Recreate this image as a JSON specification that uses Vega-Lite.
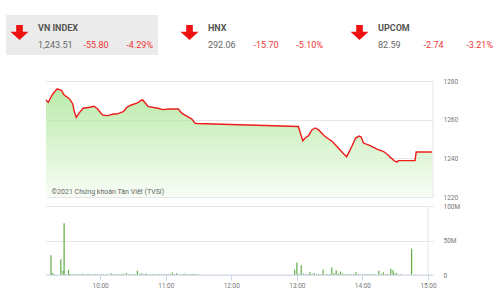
{
  "$schema": "https://vega.github.io/schema/vega-lite/v6.json",
  "padding": {"left": 5, "top": 15, "right": 4, "bottom": 0},
  "background": "white",
  "config": {"view": {"stroke": null}, "font": "Roboto"},
  "datasets": {
    "header": [
      {"name": "VN INDEX", "value": "1,243.51", "change": "-55.80", "pct": "-4.29%", "active": true},
      {"name": "HNX", "value": "292.06", "change": "-15.70", "pct": "-5.10%", "active": false},
      {"name": "UPCOM", "value": "82.59", "change": "-2.74", "pct": "-3.21%", "active": false}
    ],
    "price": [
      {"t": "2021-01-28T09:15", "price": 1270.2},
      {"t": "2021-01-28T09:17", "price": 1269.0},
      {"t": "2021-01-28T09:21", "price": 1273.3},
      {"t": "2021-01-28T09:25", "price": 1276.0},
      {"t": "2021-01-28T09:29", "price": 1275.0},
      {"t": "2021-01-28T09:31", "price": 1272.9},
      {"t": "2021-01-28T09:36", "price": 1270.7},
      {"t": "2021-01-28T09:39", "price": 1268.0},
      {"t": "2021-01-28T09:40", "price": 1264.6},
      {"t": "2021-01-28T09:42", "price": 1261.2},
      {"t": "2021-01-28T09:45", "price": 1263.8},
      {"t": "2021-01-28T09:48", "price": 1265.9},
      {"t": "2021-01-28T09:54", "price": 1266.4},
      {"t": "2021-01-28T09:58", "price": 1266.9},
      {"t": "2021-01-28T10:01", "price": 1265.5},
      {"t": "2021-01-28T10:04", "price": 1263.3},
      {"t": "2021-01-28T10:06", "price": 1262.3},
      {"t": "2021-01-28T10:10", "price": 1262.1},
      {"t": "2021-01-28T10:15", "price": 1262.9},
      {"t": "2021-01-28T10:18", "price": 1262.9},
      {"t": "2021-01-28T10:22", "price": 1263.8},
      {"t": "2021-01-28T10:24", "price": 1264.1},
      {"t": "2021-01-28T10:27", "price": 1266.4},
      {"t": "2021-01-28T10:31", "price": 1267.6},
      {"t": "2021-01-28T10:36", "price": 1268.5},
      {"t": "2021-01-28T10:38", "price": 1269.3},
      {"t": "2021-01-28T10:41", "price": 1270.3},
      {"t": "2021-01-28T10:43", "price": 1269.0},
      {"t": "2021-01-28T10:46", "price": 1266.9},
      {"t": "2021-01-28T10:50", "price": 1266.4},
      {"t": "2021-01-28T10:55", "price": 1265.9},
      {"t": "2021-01-28T10:59", "price": 1265.2},
      {"t": "2021-01-28T11:05", "price": 1265.5},
      {"t": "2021-01-28T11:13", "price": 1265.5},
      {"t": "2021-01-28T11:16", "price": 1263.4},
      {"t": "2021-01-28T11:20", "price": 1262.0},
      {"t": "2021-01-28T11:25", "price": 1260.3},
      {"t": "2021-01-28T11:28", "price": 1258.1},
      {"t": "2021-01-28T11:30", "price": 1258.0},
      {"t": "2021-01-28T13:00", "price": 1256.5},
      {"t": "2021-01-28T13:02", "price": 1252.6},
      {"t": "2021-01-28T13:04", "price": 1249.1},
      {"t": "2021-01-28T13:06", "price": 1250.5},
      {"t": "2021-01-28T13:09", "price": 1251.7},
      {"t": "2021-01-28T13:12", "price": 1254.7},
      {"t": "2021-01-28T13:15", "price": 1255.7},
      {"t": "2021-01-28T13:18", "price": 1254.7},
      {"t": "2021-01-28T13:23", "price": 1251.7},
      {"t": "2021-01-28T13:27", "price": 1250.0},
      {"t": "2021-01-28T13:30", "price": 1248.8},
      {"t": "2021-01-28T13:35", "price": 1245.7},
      {"t": "2021-01-28T13:39", "price": 1243.1},
      {"t": "2021-01-28T13:43", "price": 1240.8},
      {"t": "2021-01-28T13:45", "price": 1243.1},
      {"t": "2021-01-28T13:48", "price": 1246.6},
      {"t": "2021-01-28T13:51", "price": 1250.5},
      {"t": "2021-01-28T13:54", "price": 1251.5},
      {"t": "2021-01-28T13:56", "price": 1251.0},
      {"t": "2021-01-28T13:58", "price": 1247.9},
      {"t": "2021-01-28T14:04", "price": 1246.6},
      {"t": "2021-01-28T14:10", "price": 1244.8},
      {"t": "2021-01-28T14:16", "price": 1243.5},
      {"t": "2021-01-28T14:20", "price": 1241.7},
      {"t": "2021-01-28T14:22", "price": 1240.5},
      {"t": "2021-01-28T14:26", "price": 1238.5},
      {"t": "2021-01-28T14:28", "price": 1238.0},
      {"t": "2021-01-28T14:29", "price": 1238.8},
      {"t": "2021-01-28T14:44", "price": 1238.8},
      {"t": "2021-01-28T14:45", "price": 1243.3},
      {"t": "2021-01-28T14:59", "price": 1243.3}
    ],
    "volume": [
      {"t": "2021-01-28T09:15", "vol": 28.5},
      {"t": "2021-01-28T09:16", "vol": 3},
      {"t": "2021-01-28T09:17", "vol": 1.5},
      {"t": "2021-01-28T09:18", "vol": 0.8},
      {"t": "2021-01-28T09:24", "vol": 23},
      {"t": "2021-01-28T09:26", "vol": 6},
      {"t": "2021-01-28T09:27", "vol": 75},
      {"t": "2021-01-28T09:28", "vol": 1},
      {"t": "2021-01-28T09:31", "vol": 7.7},
      {"t": "2021-01-28T09:32", "vol": 1.5},
      {"t": "2021-01-28T09:33", "vol": 1},
      {"t": "2021-01-28T09:35", "vol": 1.2},
      {"t": "2021-01-28T09:37", "vol": 0.8},
      {"t": "2021-01-28T09:39", "vol": 1.5},
      {"t": "2021-01-28T09:41", "vol": 1},
      {"t": "2021-01-28T09:43", "vol": 2},
      {"t": "2021-01-28T09:45", "vol": 1.2},
      {"t": "2021-01-28T09:47", "vol": 1},
      {"t": "2021-01-28T09:49", "vol": 1.8},
      {"t": "2021-01-28T09:51", "vol": 1},
      {"t": "2021-01-28T09:53", "vol": 0.8},
      {"t": "2021-01-28T09:55", "vol": 1.3},
      {"t": "2021-01-28T09:57", "vol": 1},
      {"t": "2021-01-28T09:59", "vol": 0.9},
      {"t": "2021-01-28T10:01", "vol": 1.5},
      {"t": "2021-01-28T10:03", "vol": 1},
      {"t": "2021-01-28T10:05", "vol": 0.8},
      {"t": "2021-01-28T10:07", "vol": 1.2},
      {"t": "2021-01-28T10:10", "vol": 2.5},
      {"t": "2021-01-28T10:12", "vol": 1},
      {"t": "2021-01-28T10:14", "vol": 0.8},
      {"t": "2021-01-28T10:16", "vol": 1.4},
      {"t": "2021-01-28T10:18", "vol": 1},
      {"t": "2021-01-28T10:20", "vol": 1.8},
      {"t": "2021-01-28T10:22", "vol": 1},
      {"t": "2021-01-28T10:24", "vol": 3},
      {"t": "2021-01-28T10:26", "vol": 1},
      {"t": "2021-01-28T10:28", "vol": 1.2},
      {"t": "2021-01-28T10:30", "vol": 0.8},
      {"t": "2021-01-28T10:32", "vol": 1.5},
      {"t": "2021-01-28T10:34", "vol": 6},
      {"t": "2021-01-28T10:36", "vol": 1.5},
      {"t": "2021-01-28T10:38", "vol": 2.5},
      {"t": "2021-01-28T10:40", "vol": 1},
      {"t": "2021-01-28T10:42", "vol": 2},
      {"t": "2021-01-28T10:44", "vol": 1},
      {"t": "2021-01-28T10:46", "vol": 0.8},
      {"t": "2021-01-28T10:48", "vol": 1.2},
      {"t": "2021-01-28T10:50", "vol": 1},
      {"t": "2021-01-28T10:52", "vol": 0.9},
      {"t": "2021-01-28T10:54", "vol": 1.3},
      {"t": "2021-01-28T10:56", "vol": 1},
      {"t": "2021-01-28T10:58", "vol": 0.8},
      {"t": "2021-01-28T11:00", "vol": 1.2},
      {"t": "2021-01-28T11:02", "vol": 1},
      {"t": "2021-01-28T11:04", "vol": 1.5},
      {"t": "2021-01-28T11:06", "vol": 3.5},
      {"t": "2021-01-28T11:08", "vol": 1},
      {"t": "2021-01-28T11:10", "vol": 2.5},
      {"t": "2021-01-28T11:12", "vol": 1},
      {"t": "2021-01-28T11:14", "vol": 0.8},
      {"t": "2021-01-28T11:16", "vol": 1.2},
      {"t": "2021-01-28T11:18", "vol": 2.2},
      {"t": "2021-01-28T11:20", "vol": 1},
      {"t": "2021-01-28T11:22", "vol": 1.5},
      {"t": "2021-01-28T11:24", "vol": 1},
      {"t": "2021-01-28T11:26", "vol": 1.8},
      {"t": "2021-01-28T11:28", "vol": 1},
      {"t": "2021-01-28T11:30", "vol": 0.8},
      {"t": "2021-01-28T12:58", "vol": 7.7},
      {"t": "2021-01-28T13:00", "vol": 18},
      {"t": "2021-01-28T13:02", "vol": 1.5},
      {"t": "2021-01-28T13:04", "vol": 14},
      {"t": "2021-01-28T13:06", "vol": 2},
      {"t": "2021-01-28T13:08", "vol": 1},
      {"t": "2021-01-28T13:10", "vol": 1.5},
      {"t": "2021-01-28T13:12", "vol": 4},
      {"t": "2021-01-28T13:14", "vol": 1},
      {"t": "2021-01-28T13:16", "vol": 3},
      {"t": "2021-01-28T13:18", "vol": 1},
      {"t": "2021-01-28T13:20", "vol": 1.5},
      {"t": "2021-01-28T13:22", "vol": 1},
      {"t": "2021-01-28T13:24", "vol": 7.7},
      {"t": "2021-01-28T13:26", "vol": 1},
      {"t": "2021-01-28T13:28", "vol": 1.2},
      {"t": "2021-01-28T13:30", "vol": 1.5},
      {"t": "2021-01-28T13:32", "vol": 11},
      {"t": "2021-01-28T13:34", "vol": 2.5},
      {"t": "2021-01-28T13:36", "vol": 7},
      {"t": "2021-01-28T13:38", "vol": 2},
      {"t": "2021-01-28T13:40", "vol": 5},
      {"t": "2021-01-28T13:42", "vol": 2},
      {"t": "2021-01-28T13:44", "vol": 1.5},
      {"t": "2021-01-28T13:46", "vol": 1},
      {"t": "2021-01-28T13:48", "vol": 1.2},
      {"t": "2021-01-28T13:50", "vol": 1},
      {"t": "2021-01-28T13:52", "vol": 1.5},
      {"t": "2021-01-28T13:54", "vol": 4},
      {"t": "2021-01-28T13:56", "vol": 1},
      {"t": "2021-01-28T13:58", "vol": 1.2},
      {"t": "2021-01-28T14:00", "vol": 1},
      {"t": "2021-01-28T14:02", "vol": 1},
      {"t": "2021-01-28T14:04", "vol": 1.5},
      {"t": "2021-01-28T14:06", "vol": 1},
      {"t": "2021-01-28T14:08", "vol": 1},
      {"t": "2021-01-28T14:10", "vol": 1.2},
      {"t": "2021-01-28T14:12", "vol": 1},
      {"t": "2021-01-28T14:15", "vol": 6},
      {"t": "2021-01-28T14:17", "vol": 1.5},
      {"t": "2021-01-28T14:19", "vol": 4},
      {"t": "2021-01-28T14:21", "vol": 1},
      {"t": "2021-01-28T14:23", "vol": 1.5},
      {"t": "2021-01-28T14:25", "vol": 1},
      {"t": "2021-01-28T14:26", "vol": 9},
      {"t": "2021-01-28T14:28", "vol": 7},
      {"t": "2021-01-28T14:29", "vol": 2},
      {"t": "2021-01-28T14:31", "vol": 3},
      {"t": "2021-01-28T14:33", "vol": 1},
      {"t": "2021-01-28T14:35", "vol": 1},
      {"t": "2021-01-28T14:45", "vol": 38},
      {"t": "2021-01-28T14:49", "vol": 1},
      {"t": "2021-01-28T15:00", "vol": 0.8}
    ]
  },
  "columns": 1,
  "spacing": 23,
  "concat": [
    {
      "width": 452,
      "height": 40,
      "data": {"name": "header"},
      "layer": [
        {
          "transform": [{"filter": "datum.active"}],
          "mark": {"type": "bar", "color": "#ebebeb"},
          "encoding": {
            "x": {"field": "name", "type": "nominal", "scale": {"domain": ["VN INDEX", "HNX", "UPCOM"], "range": [-40, 452], "paddingInner": 0.106, "paddingOuter": 0}, "axis": null}
          }
        },
        {
          "mark": {"type": "point", "shape": "M1.13,-1.11 L1.87,-1.11 L1.87,-0.37 L2.5,-0.37 L1.5,0.56 L0.5,-0.37 L1.13,-0.37 Z", "filled": true, "color": "#ee1111", "opacity": 1, "size": 324, "strokeWidth": 0},
          "encoding": {"x": {"field": "name", "type": "nominal", "bandPosition": 0, "axis": null}}
        },
        {
          "mark": {"type": "text", "align": "left", "baseline": "middle", "dx": 32, "dy": -7.5, "fontSize": 9, "fontWeight": "bold", "color": "#555555"},
          "encoding": {"x": {"field": "name", "type": "nominal", "bandPosition": 0, "axis": null}, "text": {"field": "name"}}
        },
        {
          "mark": {"type": "text", "align": "left", "baseline": "middle", "dx": 32, "dy": 10, "fontSize": 9, "color": "#666666"},
          "encoding": {"x": {"field": "name", "type": "nominal", "bandPosition": 0, "axis": null}, "text": {"field": "value"}}
        },
        {
          "mark": {"type": "text", "align": "left", "baseline": "middle", "dx": 77.5, "dy": 10, "fontSize": 9, "color": "#f03434"},
          "encoding": {"x": {"field": "name", "type": "nominal", "bandPosition": 0, "axis": null}, "text": {"field": "change"}}
        },
        {
          "mark": {"type": "text", "align": "right", "baseline": "middle", "dx": 147, "dy": 10, "fontSize": 9, "color": "#f03434"},
          "encoding": {"x": {"field": "name", "type": "nominal", "bandPosition": 0, "axis": null}, "text": {"field": "pct"}}
        }
      ]
    },
    {
      "spacing": 2,
      "vconcat": [
        {
          "width": 387,
          "height": 116,
          "layer": [
            {
              "data": {"name": "price"},
              "mark": {
                "type": "area",
                "color": {"gradient": "linear", "x1": 0, "y1": 0, "x2": 0, "y2": 1, "stops": [{"offset": 0, "color": "#9de285"}, {"offset": 1, "color": "#f5fcf2"}]},
                "line": {"color": "#ee1c1c", "strokeWidth": 1.4}
              },
              "encoding": {
                "x": {"field": "t", "type": "temporal", "scale": {"domain": [{"year": 2021, "month": 1, "date": 28, "hours": 9, "minutes": 15}, {"year": 2021, "month": 1, "date": 28, "hours": 15}]}, "axis": null},
                "y": {"field": "price", "type": "quantitative", "scale": {"domain": [1220, 1280], "zero": false, "nice": false},
                  "axis": {"orient": "right", "values": [1220, 1240, 1260, 1280], "format": "d", "grid": true, "gridColor": "#e6e6e6", "domain": false, "ticks": false, "labelPadding": 10, "labelFontSize": 6.5, "labelColor": "#777777", "title": null}},
                "y2": {"datum": 1220}
              }
            },
            {
              "data": {"values": [{"label": "©2021 Chứng khoán Tân Việt (TVSI)"}]},
              "mark": {"type": "text", "align": "left", "baseline": "middle", "fontSize": 7, "color": "#666666"},
              "encoding": {
                "x": {"datum": {"year": 2021, "month": 1, "date": 28, "hours": 9, "minutes": 20}, "type": "temporal", "axis": null},
                "y": {"datum": 1222.6, "type": "quantitative", "axis": {"orient": "left", "labels": false, "ticks": false, "domain": false, "grid": false, "title": null, "minExtent": 40, "maxExtent": 40}},
                "text": {"field": "label"}
              }
            },
            {
              "data": {"values": [{}]},
              "mark": {"type": "rule", "color": "#e6e6e6"},
              "encoding": {"x": {"datum": {"year": 2021, "month": 1, "date": 28, "hours": 15}, "type": "temporal", "axis": null}}
            }
          ],
          "resolve": {"axis": {"y": "independent"}}
        },
        {
          "width": 387,
          "height": 69,
          "layer": [
            {
              "data": {"name": "volume"},
              "mark": {"type": "bar", "color": "#5fae45", "size": 1.2},
              "encoding": {
                "x": {"field": "t", "type": "temporal", "scale": {"domain": [{"year": 2021, "month": 1, "date": 28, "hours": 9, "minutes": 15}, {"year": 2021, "month": 1, "date": 28, "hours": 15}]},
                  "axis": {"values": [{"year": 2021, "month": 1, "date": 28, "hours": 10}, {"year": 2021, "month": 1, "date": 28, "hours": 11}, {"year": 2021, "month": 1, "date": 28, "hours": 12}, {"year": 2021, "month": 1, "date": 28, "hours": 13}, {"year": 2021, "month": 1, "date": 28, "hours": 14}, {"year": 2021, "month": 1, "date": 28, "hours": 15}],
                    "format": "%H:%M", "grid": false, "domain": false, "ticks": true, "tickColor": "#ccd6eb", "tickSize": 5, "labelFontSize": 6.5, "labelColor": "#777777", "labelPadding": 2, "labelFlush": false, "title": null}},
                "y": {"field": "vol", "type": "quantitative", "scale": {"domain": [0, 100], "nice": false},
                  "axis": {"orient": "right", "values": [0, 50, 100], "labelExpr": "datum.value == 0 ? '0' : datum.value + 'M'", "grid": true, "gridColor": "#e6e6e6", "domain": false, "ticks": false, "labelPadding": 10, "labelFontSize": 6.5, "labelColor": "#777777", "title": null}}
              }
            },
            {
              "data": {"values": [{}]},
              "mark": {"type": "rule", "color": "#ccd6eb"},
              "encoding": {"y": {"datum": 0, "type": "quantitative", "axis": {"orient": "left", "labels": false, "ticks": false, "domain": false, "grid": false, "title": null, "minExtent": 40, "maxExtent": 40}}}
            },
            {
              "data": {"values": [{}]},
              "mark": {"type": "rule", "color": "#e6e6e6"},
              "encoding": {"x": {"datum": {"year": 2021, "month": 1, "date": 28, "hours": 15}, "type": "temporal"}}
            }
          ],
          "resolve": {"axis": {"y": "independent"}}
        }
      ]
    }
  ]
}
